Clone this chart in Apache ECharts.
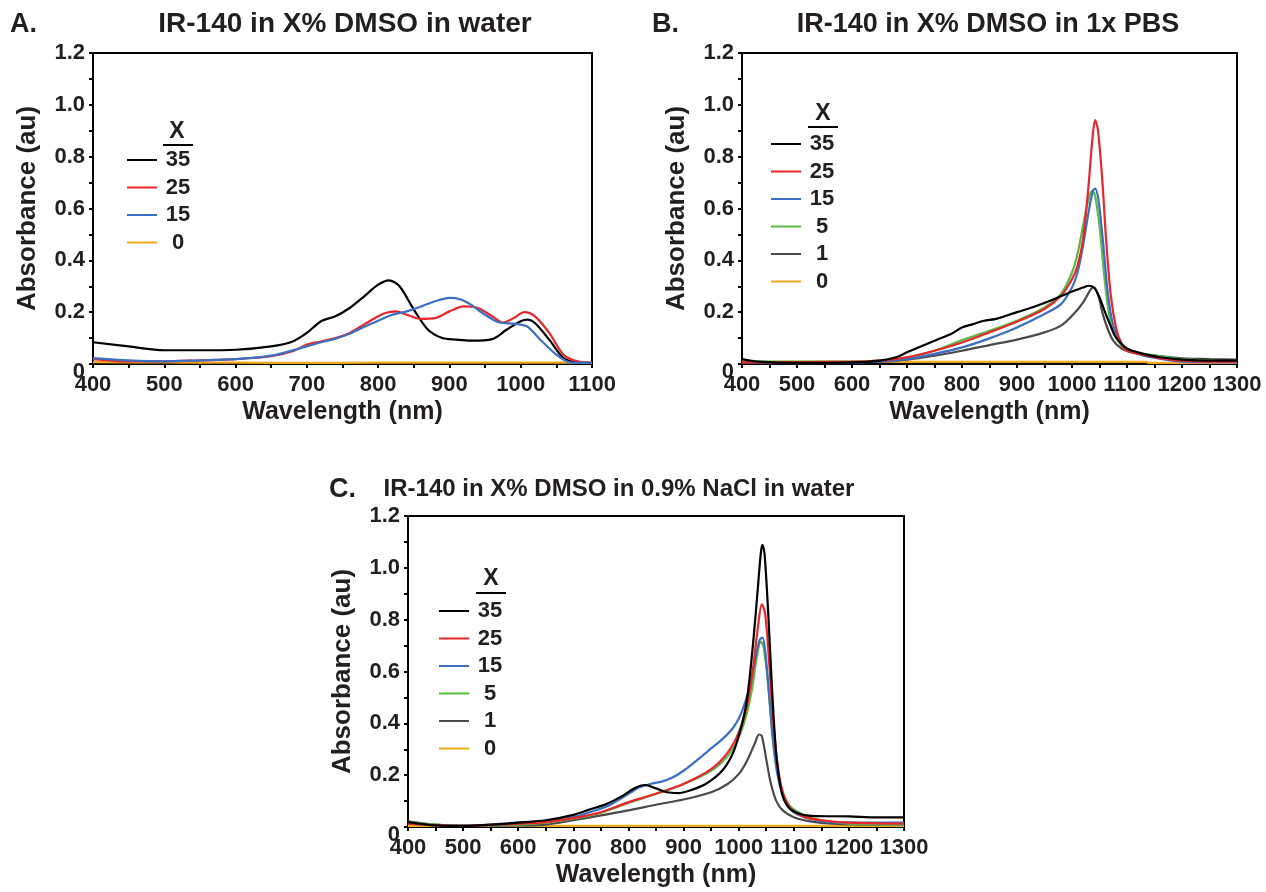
<!DOCTYPE html>
<html>
<head>
<meta charset="utf-8">
<script src="https://cdn.jsdelivr.net/npm/echarts@6/dist/echarts.min.js"></script>
<style>
  html, body { margin: 0; padding: 0; background: #fff; }
  #chart { width: 1266px; height: 892px; }
</style>
</head>
<body>
<div id="chart"></div>
<script>
// ---------- Data (wavelength nm, absorbance au) ----------
// Panel A: IR-140 in X% DMSO in water
const A_35 = [[400,0.084],[450,0.068],[500,0.053],[550,0.053],[600,0.055],[650,0.068],[680,0.087],[700,0.12],[720,0.165],[740,0.184],[760,0.216],[780,0.26],[800,0.306],[815,0.323],[830,0.30],[850,0.21],[870,0.132],[890,0.10],[910,0.094],[930,0.09],[960,0.096],[980,0.132],[1000,0.165],[1010,0.171],[1020,0.158],[1040,0.094],[1060,0.023],[1080,0.006],[1100,0.004]];
const A_25 = [[400,0.019],[450,0.01],[500,0.01],[550,0.014],[600,0.019],[650,0.03],[680,0.049],[700,0.075],[720,0.087],[740,0.10],[760,0.12],[780,0.152],[800,0.184],[810,0.197],[825,0.203],[840,0.19],[860,0.174],[880,0.177],[900,0.203],[920,0.222],[940,0.216],[960,0.184],[975,0.16],[990,0.177],[1005,0.20],[1020,0.184],[1040,0.12],[1060,0.036],[1080,0.01],[1100,0.004]];
const A_15 = [[400,0.023],[450,0.014],[500,0.01],[550,0.014],[600,0.019],[650,0.032],[700,0.068],[720,0.084],[740,0.098],[760,0.117],[780,0.143],[800,0.167],[820,0.19],[840,0.203],[860,0.222],[880,0.242],[900,0.255],[915,0.25],[930,0.229],[950,0.19],[970,0.16],[990,0.156],[1000,0.152],[1010,0.143],[1030,0.087],[1050,0.036],[1065,0.01],[1080,0.004],[1100,0.004]];
const A_0 = [[400,0.007],[500,0.006],[600,0.005],[700,0.004],[800,0.005],[900,0.005],[1000,0.005],[1100,0.005]];

// Panel B: IR-140 in X% DMSO in 1x PBS
const B_35 = [[400,0.019],[430,0.009],[500,0.004],[600,0.006],[650,0.013],[680,0.026],[700,0.045],[750,0.09],[780,0.116],[800,0.141],[820,0.154],[840,0.167],[860,0.173],[880,0.186],[900,0.20],[930,0.22],[960,0.244],[1000,0.28],[1020,0.295],[1030,0.302],[1040,0.295],[1050,0.257],[1060,0.2],[1070,0.148],[1080,0.103],[1100,0.06],[1130,0.039],[1160,0.026],[1200,0.017],[1250,0.013],[1300,0.013]];
const B_25 = [[400,0.006],[600,0.009],[650,0.013],[700,0.026],[750,0.051],[800,0.083],[850,0.122],[900,0.163],[950,0.212],[980,0.263],[1000,0.327],[1010,0.379],[1020,0.48],[1030,0.687],[1037,0.867],[1042,0.941],[1047,0.905],[1055,0.712],[1062,0.48],[1070,0.276],[1080,0.141],[1090,0.077],[1100,0.051],[1130,0.035],[1160,0.022],[1200,0.013],[1250,0.009],[1300,0.009]];
const B_15 = [[400,0.006],[600,0.006],[650,0.01],[700,0.019],[750,0.039],[800,0.064],[850,0.099],[900,0.141],[950,0.193],[980,0.231],[1000,0.295],[1010,0.353],[1020,0.456],[1030,0.584],[1038,0.668],[1042,0.677],[1048,0.635],[1056,0.48],[1065,0.276],[1075,0.148],[1090,0.081],[1100,0.058],[1130,0.032],[1170,0.017],[1200,0.009],[1300,0.006]];
const B_5 = [[400,0.009],[600,0.009],[650,0.013],[700,0.026],[750,0.051],[800,0.092],[850,0.128],[900,0.167],[950,0.218],[980,0.27],[1000,0.353],[1010,0.424],[1020,0.533],[1030,0.635],[1037,0.668],[1042,0.648],[1050,0.533],[1058,0.353],[1066,0.212],[1075,0.122],[1090,0.071],[1100,0.051],[1130,0.039],[1160,0.03],[1200,0.019],[1300,0.009]];
const B_1 = [[400,0.006],[600,0.006],[650,0.009],[700,0.017],[750,0.032],[800,0.051],[850,0.073],[900,0.094],[950,0.122],[980,0.148],[1000,0.186],[1020,0.237],[1035,0.291],[1040,0.295],[1048,0.263],[1055,0.2],[1065,0.135],[1075,0.09],[1090,0.06],[1110,0.045],[1150,0.032],[1200,0.022],[1250,0.019],[1300,0.017]];
const B_0 = [[400,0.008],[600,0.008],[800,0.008],[1000,0.008],[1135,0.008],[1140,0.004],[1300,0.004]];

// Panel C: IR-140 in X% DMSO in 0.9% NaCl in water
const C_35 = [[400,0.019],[450,0.006],[500,0.004],[550,0.009],[600,0.017],[650,0.026],[700,0.047],[730,0.068],[760,0.089],[790,0.121],[810,0.149],[830,0.162],[850,0.149],[870,0.134],[890,0.131],[910,0.14],[940,0.166],[970,0.217],[990,0.287],[1005,0.389],[1015,0.49],[1025,0.683],[1033,0.875],[1040,1.053],[1043,1.089],[1047,1.053],[1054,0.811],[1060,0.555],[1068,0.287],[1078,0.134],[1090,0.077],[1110,0.051],[1140,0.042],[1200,0.041],[1250,0.037],[1300,0.037]];
const C_25 = [[400,0.013],[500,0.004],[600,0.013],[650,0.019],[700,0.034],[750,0.057],[800,0.096],[850,0.128],[900,0.166],[950,0.223],[980,0.287],[1000,0.364],[1015,0.466],[1025,0.594],[1035,0.772],[1042,0.859],[1048,0.823],[1055,0.645],[1062,0.428],[1070,0.249],[1080,0.134],[1095,0.07],[1120,0.038],[1150,0.026],[1200,0.017],[1300,0.013]];
const C_15 = [[400,0.013],[500,0.004],[600,0.017],[650,0.022],[700,0.038],[740,0.064],[770,0.089],[800,0.128],[820,0.153],[840,0.166],[860,0.175],[880,0.191],[900,0.217],[930,0.268],[950,0.303],[970,0.338],[990,0.383],[1005,0.44],[1020,0.543],[1030,0.645],[1038,0.721],[1043,0.731],[1048,0.683],[1055,0.517],[1062,0.338],[1072,0.185],[1085,0.096],[1100,0.057],[1130,0.032],[1170,0.019],[1300,0.017]];
const C_5 = [[400,0.019],[500,0.004],[600,0.009],[650,0.017],[700,0.032],[750,0.055],[800,0.093],[850,0.128],[900,0.166],[950,0.217],[980,0.274],[1000,0.345],[1015,0.44],[1025,0.543],[1033,0.657],[1040,0.715],[1045,0.696],[1052,0.581],[1060,0.389],[1068,0.236],[1080,0.134],[1095,0.077],[1120,0.045],[1150,0.026],[1200,0.013],[1300,0.009]];
const C_1 = [[400,0.022],[450,0.009],[500,0.004],[600,0.006],[650,0.009],[700,0.026],[750,0.045],[800,0.064],[850,0.086],[900,0.106],[950,0.134],[980,0.166],[1000,0.204],[1015,0.255],[1030,0.326],[1037,0.357],[1042,0.351],[1050,0.262],[1058,0.172],[1068,0.102],[1080,0.064],[1100,0.038],[1130,0.022],[1170,0.013],[1250,0.009],[1300,0.009]];
const C_0 = [[400,0.004],[600,0.004],[800,0.004],[1000,0.004],[1200,0.004],[1300,0.004]];

const titlesText = ['IR-140 in X% DMSO in water', 'IR-140 in X% DMSO in 1x PBS', 'IR-140 in X% DMSO in 0.9% NaCl in water'];
const panelLetters = ['A.', 'B.', 'C.'];
const legendA = ['35', '25', '15', '0'];
const legendBC = ['35', '25', '15', '5', '1', '0'];
const xMaxes = [1100, 1300, 1300];

const COLORS = { '35': '#000000', '25': '#e8262b', '15': '#3c6fc2', '5': '#5bb947', '1': '#4a4a4a', '0': '#f2a81d' };
const FONT = "'Liberation Sans', Arial, Helvetica, sans-serif";

const grids = [
  { left: 93, top: 53, width: 499, height: 311 },
  { left: 742, top: 53, width: 495, height: 311 },
  { left: 408, top: 516, width: 496, height: 311 }
];

function xAxisFor(i) {
  return {
    type: 'value', gridIndex: i, min: 400, max: xMaxes[i], interval: 100,
    name: 'Wavelength (nm)', nameLocation: 'middle', nameGap: 36,
    nameTextStyle: { fontFamily: FONT, fontWeight: 'bold', fontSize: 25, color: '#231f20' },
    axisLine: { show: true, onZero: false, lineStyle: { color: '#000', width: 2 } },
    axisTick: { show: true, inside: false, length: 4, lineStyle: { color: '#000', width: 2 } },
    minorTick: { show: true, splitNumber: 2, length: 4, lineStyle: { color: '#000', width: 2 } },
    splitLine: { show: false },
    axisLabel: {
      fontFamily: FONT, fontWeight: 'bold', fontSize: 22, color: '#231f20', margin: 10,
      showMinLabel: true, showMaxLabel: true, hideOverlap: false,
      formatter: v => String(Math.round(v))
    }
  };
}
function yAxisFor(i) {
  return {
    type: 'value', gridIndex: i, min: 0, max: 1.2, interval: 0.2,
    name: 'Absorbance (au)', nameLocation: 'middle', nameGap: 52,
    nameTextStyle: { fontFamily: FONT, fontWeight: 'bold', fontSize: 26, color: '#231f20' },
    axisLine: { show: true, onZero: false, lineStyle: { color: '#000', width: 2 } },
    axisTick: { show: true, inside: false, length: 4, lineStyle: { color: '#000', width: 2 } },
    minorTick: { show: true, splitNumber: 2, length: 4, lineStyle: { color: '#000', width: 2 } },
    splitLine: { show: false },
    axisLabel: {
      fontFamily: FONT, fontWeight: 'bold', fontSize: 22, color: '#231f20', margin: 8,
      formatter: v => v === 0 ? '{z|0}' : v.toFixed(1),
      rich: { z: { fontFamily: FONT, fontWeight: 'bold', fontSize: 22, color: '#231f20', padding: [16, 0, 0, 0] } }
    }
  };
}

function line(name, data, idx) {
  return {
    type: 'line', name: name, data: data, xAxisIndex: idx, yAxisIndex: idx,
    showSymbol: false, symbol: 'none', smooth: 0.3,
    lineStyle: { color: COLORS[name], width: 2.2 }, itemStyle: { color: COLORS[name] },
    z: name === '0' ? 1 : 2
  };
}

const series = [
  line('35', A_35, 0), line('25', A_25, 0), line('15', A_15, 0), line('0', A_0, 0),
  line('0', B_0, 1), line('1', B_1, 1), line('5', B_5, 1), line('15', B_15, 1), line('25', B_25, 1), line('35', B_35, 1),
  line('0', C_0, 2), line('1', C_1, 2), line('5', C_5, 2), line('15', C_15, 2), line('25', C_25, 2), line('35', C_35, 2)
];

function legendFor(names, left, top) {
  return {
    orient: 'vertical', left: left, top: top, itemWidth: 30, itemHeight: 2, itemGap: 5.5,
    padding: 0, icon: 'rect', selectedMode: false,
    data: names.map(n => ({ name: n, itemStyle: { color: COLORS[n] } })),
    formatter: n => '{c|' + n + '}',
    textStyle: {
      fontFamily: FONT, fontWeight: 'bold', fontSize: 22, color: '#231f20', lineHeight: 22,
      rich: { c: { width: 32, align: 'center', fontFamily: FONT, fontWeight: 'bold', fontSize: 22, color: '#231f20', lineHeight: 22 } }
    }
  };
}

const titleStyle = { fontFamily: FONT, fontWeight: 'bold', fontSize: 27, color: '#231f20' };
const titleStyleA = { fontFamily: FONT, fontWeight: 'bold', fontSize: 28, color: '#231f20' };
const titleStyleC = { fontFamily: FONT, fontWeight: 'bold', fontSize: 24, color: '#231f20' };
const titles = [
  { text: panelLetters[0], left: 10, top: 11, padding: 0, textStyle: titleStyle },
  { text: titlesText[0], left: 345, top: 10, padding: 0, textAlign: 'center', textStyle: titleStyleA },
  { text: panelLetters[1], left: 652, top: 11, padding: 0, textStyle: titleStyle },
  { text: titlesText[1], left: 988, top: 11, padding: 0, textAlign: 'center', textStyle: titleStyle },
  { text: panelLetters[2], left: 329, top: 476, padding: 0, textStyle: titleStyle },
  { text: titlesText[2], left: 619, top: 477, padding: 0, textAlign: 'center', textStyle: titleStyleC }
];

function legendHeader(cx, cy, x1, x2, uy) {
  return [
    { type: 'text', x: cx, y: cy, style: { text: 'X', fontFamily: FONT, fontWeight: 'bold', fontSize: 23, fill: '#231f20', align: 'center', verticalAlign: 'middle' } },
    { type: 'line', shape: { x1: x1, y1: uy, x2: x2, y2: uy }, style: { stroke: '#000', lineWidth: 2 } }
  ];
}

const chart = echarts.init(document.getElementById('chart'), null, { renderer: 'canvas' });
chart.setOption({
  backgroundColor: '#fff',
  animation: false,
  title: titles,
  grid: grids.map(g => Object.assign({ show: true, borderColor: '#000', borderWidth: 2, backgroundColor: 'transparent', containLabel: false }, g)),
  xAxis: [0, 1, 2].map(xAxisFor),
  yAxis: [0, 1, 2].map(yAxisFor),
  legend: [
    legendFor(legendA, 127, 149),
    legendFor(legendBC, 771, 133),
    legendFor(legendBC, 439, 600)
  ],
  graphic: [].concat(
    legendHeader(177, 132, 163, 193, 145),
    legendHeader(823, 114, 808, 838, 127),
    legendHeader(491, 579, 476, 506, 593)
  ),
  series: series
});
</script>
</body>
</html>
